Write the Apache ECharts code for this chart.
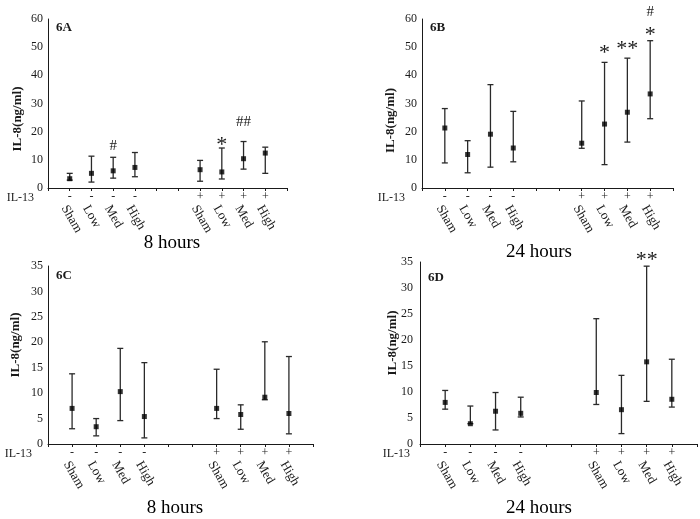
<!DOCTYPE html>
<html>
<head>
<meta charset="utf-8">
<script src="https://cdn.jsdelivr.net/npm/echarts@6/dist/echarts.min.js"></script>
<style>
html,body{margin:0;padding:0;background:#fff;}
#chart{width:700px;height:519px;}
</style>
</head>
<body>
<div id="chart"></div>
<script>
// ---- data ----
const groups = ['Sham', 'Low', 'Med', 'High'];
const il13 = ['-', '-', '-', '-', '+', '+', '+', '+'];

const meanA = [3.3, 5.2, 6.1, 7.3, 6.5, 5.7, 10.4, 12.4];
const lowA  = [2.8, 2.1, 3.5, 4.0, 2.4, 3.2, 6.7, 5.2];
const highA = [5.2, 11.3, 10.9, 12.6, 9.8, 14.2, 16.5, 14.5];
const annTextA = ['', '', '#', '', '', '*', '##', ''];
const annYA    = [null, null, 14.9, null, null, 17.0, 23.4, null];

const meanB = [21.3, 11.9, 19.1, 14.2, 15.9, 22.7, 26.9, 33.4];
const lowB  = [8.9, 5.4, 7.4, 9.3, 14.1, 8.3, 16.3, 24.6];
const highB = [28.2, 16.8, 36.7, 27.2, 30.9, 44.6, 46.1, 52.3];
const annTextB  = ['', '', '', '', '', '*', '**', '*'];
const annYB     = [null, null, null, null, null, 49.7, 51.1, 56.1];
const annText2B = ['', '', '', '', '', '', '', '#'];
const annY2B    = [null, null, null, null, null, null, null, 62.5];

const meanC = [7.0, 3.4, 10.3, 5.4, 7.0, 5.8, 9.2, 6.0];
const lowC  = [3.0, 1.6, 4.6, 1.2, 5.0, 2.9, 8.7, 2.0];
const highC = [13.8, 5.0, 18.8, 16.0, 14.7, 7.7, 20.1, 17.2];

const meanD = [8.0, 3.9, 6.3, 5.9, 9.9, 6.6, 15.8, 8.6];
const lowD  = [6.7, 3.9, 2.7, 5.2, 7.6, 2.0, 8.2, 7.1];
const highD = [10.3, 7.3, 9.9, 9.0, 24.1, 13.2, 34.2, 16.3];
const annTextD = ['', '', '', '', '', '', '**', ''];
const annYD    = [null, null, null, null, null, null, 36.3, null];

const yTicksAB = {max: 60, interval: 10};
const yTicksCD = {max: 35, interval: 5};
const yName = 'IL-8(ng/ml)';
const panelLabels = ['6A', '6B', '6C', '6D'];
const timeLabels = ['8 hours', '24 hours', '8 hours', '24 hours'];

// ---- build helpers ----
// category slots: one blank at each end, two blanks between the groups
const xCats = [''].concat(groups, ['', ''], groups, ['']);
const signCats = [''].concat(il13.slice(0, 4), ['', ''], il13.slice(4), ['']);
const slotOf = [1, 2, 3, 4, 7, 8, 9, 10];

const FONT = '"Liberation Serif", "Times New Roman", serif';
const INK = '#1a1a1a';

const grids = [
  {left: 48, top: 19, width: 239, height: 169},
  {left: 422, top: 19, width: 251, height: 169},
  {left: 48, top: 266, width: 265, height: 178},
  {left: 420, top: 262, width: 277, height: 182}
];
const yCfg = [yTicksAB, yTicksAB, yTicksCD, yTicksCD];
const ilGap = [14, 17, 16, 10];
const yGap = [24, 25, 26, 21];
const yNamePad = [[0, 31, 0, 0], [0, 34, 0, 0], [0, 0, 0, 20], [0, 0, 0, 20]];
const yLabelMargin = [5, 5, 5, 7];

const xAxes = [], yAxes = [], series = [];
grids.forEach((g, i) => {
  xAxes.push({
    type: 'category', gridIndex: i, data: xCats, boundaryGap: false,
    axisLine: {lineStyle: {color: INK, width: 1}},
    axisTick: {show: true, interval: 0, length: 3, inside: false, lineStyle: {color: INK}},
    axisLabel: {interval: 0, rotate: -60, margin: 15, verticalAlign: 'top',
      fontFamily: FONT, fontSize: 13, color: INK},
    splitLine: {show: false}
  });
  xAxes.push({
    type: 'category', gridIndex: i, data: signCats, boundaryGap: false, position: 'bottom', offset: 1,
    axisLine: {show: false}, axisTick: {show: false},
    axisLabel: {interval: 0, margin: 2, fontFamily: FONT, fontSize: 12, color: INK},
    name: 'IL-13', nameLocation: 'start', nameGap: ilGap[i], nameMoveOverlap: false,
    nameTextStyle: {fontFamily: FONT, fontSize: 12, color: INK, verticalAlign: 'top', padding: [3, 0, 0, 0]},
    splitLine: {show: false}
  });
  yAxes.push({
    type: 'value', gridIndex: i, min: 0, max: yCfg[i].max, interval: yCfg[i].interval,
    axisLine: {show: true, lineStyle: {color: INK, width: 1}},
    axisTick: {show: false},
    splitLine: {show: false},
    axisLabel: {margin: yLabelMargin[i], fontFamily: FONT, fontSize: 12, color: INK},
    name: yName, nameLocation: 'middle', nameGap: yGap[i], nameMoveOverlap: false,
    nameTextStyle: {fontFamily: FONT, fontSize: 13, fontWeight: 'bold', color: INK, padding: yNamePad[i]}
  });
});

const panels = [
  {mean: meanA, low: lowA, high: highA, ann: [[annTextA, annYA]]},
  {mean: meanB, low: lowB, high: highB, ann: [[annTextB, annYB], [annText2B, annY2B]]},
  {mean: meanC, low: lowC, high: highC, ann: []},
  {mean: meanD, low: lowD, high: highD, ann: [[annTextD, annYD]]}
];

function errRender(params, api) {
  const x = api.value(0);
  const pLo = api.coord([x, api.value(1)]);
  const pHi = api.coord([x, api.value(2)]);
  const cap = 3;
  const st = {stroke: '#2a2a2a', lineWidth: 1.3};
  return {
    type: 'group',
    children: [
      {type: 'line', shape: {x1: pLo[0], y1: pLo[1], x2: pHi[0], y2: pHi[1]}, style: st},
      {type: 'line', shape: {x1: pLo[0] - cap, y1: pLo[1], x2: pLo[0] + cap, y2: pLo[1]}, style: st},
      {type: 'line', shape: {x1: pHi[0] - cap, y1: pHi[1], x2: pHi[0] + cap, y2: pHi[1]}, style: st}
    ]
  };
}

function annRender(params, api) {
  const p = api.coord([api.value(0), api.value(1)]);
  const txt = api.value(2);
  const isStar = String(txt).indexOf('*') >= 0;
  return {
    type: 'text',
    x: p[0], y: p[1] + (isStar ? 5 : 0),
    style: {
      text: txt, textAlign: 'center', textVerticalAlign: 'middle',
      font: (isStar ? '22px ' : '15px ') + FONT, fill: INK
    }
  };
}

panels.forEach((p, i) => {
  series.push({
    type: 'custom', xAxisIndex: i * 2, yAxisIndex: i,
    renderItem: errRender, clip: false,
    data: p.mean.map((m, k) => [slotOf[k], p.low[k], p.high[k]]),
    encode: {x: 0, y: [1, 2]}, silent: true, z: 2
  });
  series.push({
    type: 'scatter', xAxisIndex: i * 2, yAxisIndex: i,
    symbol: 'rect', symbolSize: 5, itemStyle: {color: '#000'},
    data: p.mean.map((m, k) => [slotOf[k], m]), silent: true, z: 3
  });
  p.ann.forEach(([texts, ys]) => {
    const d = [];
    texts.forEach((t, k) => { if (t) d.push([slotOf[k], ys[k], t]); });
    series.push({
      type: 'custom', xAxisIndex: i * 2, yAxisIndex: i,
      renderItem: annRender, clip: false,
      dimensions: ['x', 'y', {name: 'txt', type: 'ordinal'}],
      data: d, encode: {x: 0, y: 1}, silent: true, z: 4
    });
  });
});

const graphics = [];
grids.forEach((g, i) => {
  graphics.push({
    type: 'text', left: g.left + 8, top: g.top + (i === 3 ? 9 : (i === 2 ? 3 : 2)),
    style: {text: panelLabels[i], font: 'bold 13px ' + FONT, fill: INK}
  });
});
const timePos = [[172, 243], [539, 252], [175, 508], [539, 508]];
timePos.forEach((pos, i) => {
  graphics.push({
    type: 'text', x: pos[0], y: pos[1],
    style: {text: timeLabels[i], font: '19px ' + FONT, fill: '#000', textAlign: 'center', textVerticalAlign: 'middle'}
  });
});

const chart = echarts.init(document.getElementById('chart'), null, {renderer: 'canvas'});
chart.setOption({
  animation: false,
  backgroundColor: '#fff',
  grid: grids.map(g => Object.assign({containLabel: false}, g)),
  xAxis: xAxes,
  yAxis: yAxes,
  series: series,
  graphic: graphics
});
</script>
</body>
</html>
